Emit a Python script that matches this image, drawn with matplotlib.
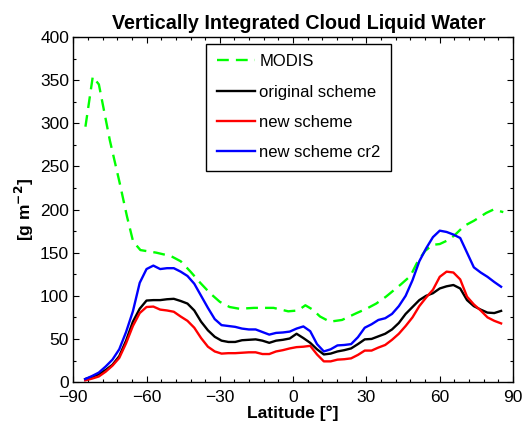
import matplotlib
matplotlib.use("Agg")
import matplotlib.pyplot as plt
from matplotlib.ticker import MultipleLocator

plt.rcParams['font.family'] = ['Liberation Sans', 'DejaVu Sans']

# MODIS observations (own latitude points)
modis_lat = [-85, -82, -79.5, -75, -71, -68, -65.5, -62.5, -56, -50, -46, -42, -38, -34,
             -30, -26, -22, -16, -8, -2, 2, 5, 8, 11, 15, 20, 26, 30, 34, 38, 44, 48,
             51, 54, 57, 60, 63, 66, 70, 74, 79, 82, 86]
modis = [296, 354, 345, 280, 231, 192, 163, 153, 150, 146, 140, 128, 115, 103,
         93, 87, 85, 86, 86, 82, 83, 89, 84, 76, 70, 72, 80, 85, 91, 99, 113, 123,
         140, 152, 159, 160, 164, 170, 181, 187, 196, 200, 197]

# model latitudes (T42 gaussian grid)
lat = [-85.10, -82.31, -79.53, -76.74, -73.95, -71.16, -68.37, -65.58, -62.79, -60.00,
       -57.21, -54.42, -51.63, -48.84, -46.04, -43.25, -40.46, -37.67, -34.88, -32.09,
       -29.30, -26.51, -23.72, -20.93, -18.14, -15.35, -12.56, -9.77, -6.98, -4.19, -1.40,
       1.40, 4.19, 6.98, 9.77, 12.56, 15.35, 18.14, 20.93, 23.72, 26.51, 29.30, 32.09,
       34.88, 37.67, 40.46, 43.25, 46.04, 48.84, 51.63, 54.42, 57.21, 60.00, 62.79,
       65.58, 68.37, 71.16, 73.95, 76.74, 79.53, 82.31, 85.10]

original = [3.5, 6, 9, 14, 20, 30, 48, 70, 85, 94.5,
            95, 95, 96, 96.5, 94, 91, 83, 70, 60, 52.5,
            48, 46.5, 46.5, 48.5, 49, 49.5, 48, 45.5, 48, 49, 50.5,
            56, 51, 45.5, 38, 32, 33, 35.5, 37, 39, 44, 49.5, 50,
            53, 56, 61, 68.5, 79, 87, 95, 100, 103, 108.5, 111,
            112.5, 108.5, 95, 88, 84, 80.5, 80, 82.5]

new = [2, 4, 6.5, 12, 19, 28, 45, 65, 80, 87,
       87.5, 84, 83, 81.5, 76, 71, 63, 51, 41, 35.5,
       33, 33.5, 33.5, 34, 34.5, 34.5, 32.5, 32.5, 35.5, 37, 39,
       40.5, 41, 42, 32, 24, 24, 26, 26.5, 27.5, 31.5, 36.5, 36.5,
       40, 43, 49, 56, 65, 75, 88, 98, 107, 122, 128,
       127, 119, 99, 90, 83, 75, 71, 68]

new_cr2 = [3.5, 7, 11, 18, 26, 38, 58, 82, 115, 131,
           135, 131, 132, 132, 128, 123, 114, 100, 86, 73,
           66, 65, 64, 62, 61, 61, 58, 55, 57, 57.5, 58.5,
           62, 64.5, 59, 44, 35.5, 38, 42.5, 43, 44, 52, 63, 67,
           72, 74, 79, 88, 100, 118, 140, 155, 168, 175.5, 174,
           171, 167, 150, 133, 127, 122, 116, 110.5]

fig = plt.figure(figsize=(5.23, 4.25), dpi=100)
ax = fig.add_axes([0.140, 0.101, 0.841, 0.812])

ax.plot(modis_lat, modis, color=(0, 1, 0), lw=1.7, dashes=(5, 3), label='MODIS')
ax.plot(lat, original, color='black', lw=1.7, label='original scheme')
ax.plot(lat, new, color='red', lw=1.7, label='new scheme')
ax.plot(lat, new_cr2, color='blue', lw=1.7, label='new scheme cr2')

ax.set_xlim(-90, 90)
ax.set_ylim(0, 400)
ax.set_xticks([-90, -60, -30, 0, 30, 60, 90])
ax.set_yticks(range(0, 401, 50))
ax.xaxis.set_minor_locator(MultipleLocator(6))
ax.yaxis.set_minor_locator(MultipleLocator(25))
ax.tick_params(which='both', direction='in', top=True, right=True, labelsize=12.5, width=0.8)
ax.tick_params(which='major', length=4.5)
ax.tick_params(which='minor', length=2.5)
ax.tick_params(axis='x', which='major', pad=5.5)
ax.tick_params(axis='y', which='major', pad=3)
for s in ax.spines.values():
    s.set_linewidth(1.0)

ax.set_title('Vertically Integrated Cloud Liquid Water', fontsize=14.2, fontweight='bold',
             pad=6, x=0.512)
ax.set_xlabel('Latitude [°]', fontsize=12.5, fontweight='bold', labelpad=0.5)
ax.set_ylabel('[g m$^{\\mathbf{-2}}$]', fontsize=12.5, fontweight='bold', labelpad=3)

leg = ax.legend(loc='upper left', bbox_to_anchor=(0.303, 0.98), fontsize=12,
                frameon=True, fancybox=False, handlelength=2.3, handletextpad=0.25,
                labelspacing=0.92, borderpad=0.62, borderaxespad=0)
leg.get_frame().set_edgecolor('black')
leg.get_frame().set_linewidth(1.0)
leg.get_frame().set_alpha(1)

fig.savefig('out.png', dpi=100)
